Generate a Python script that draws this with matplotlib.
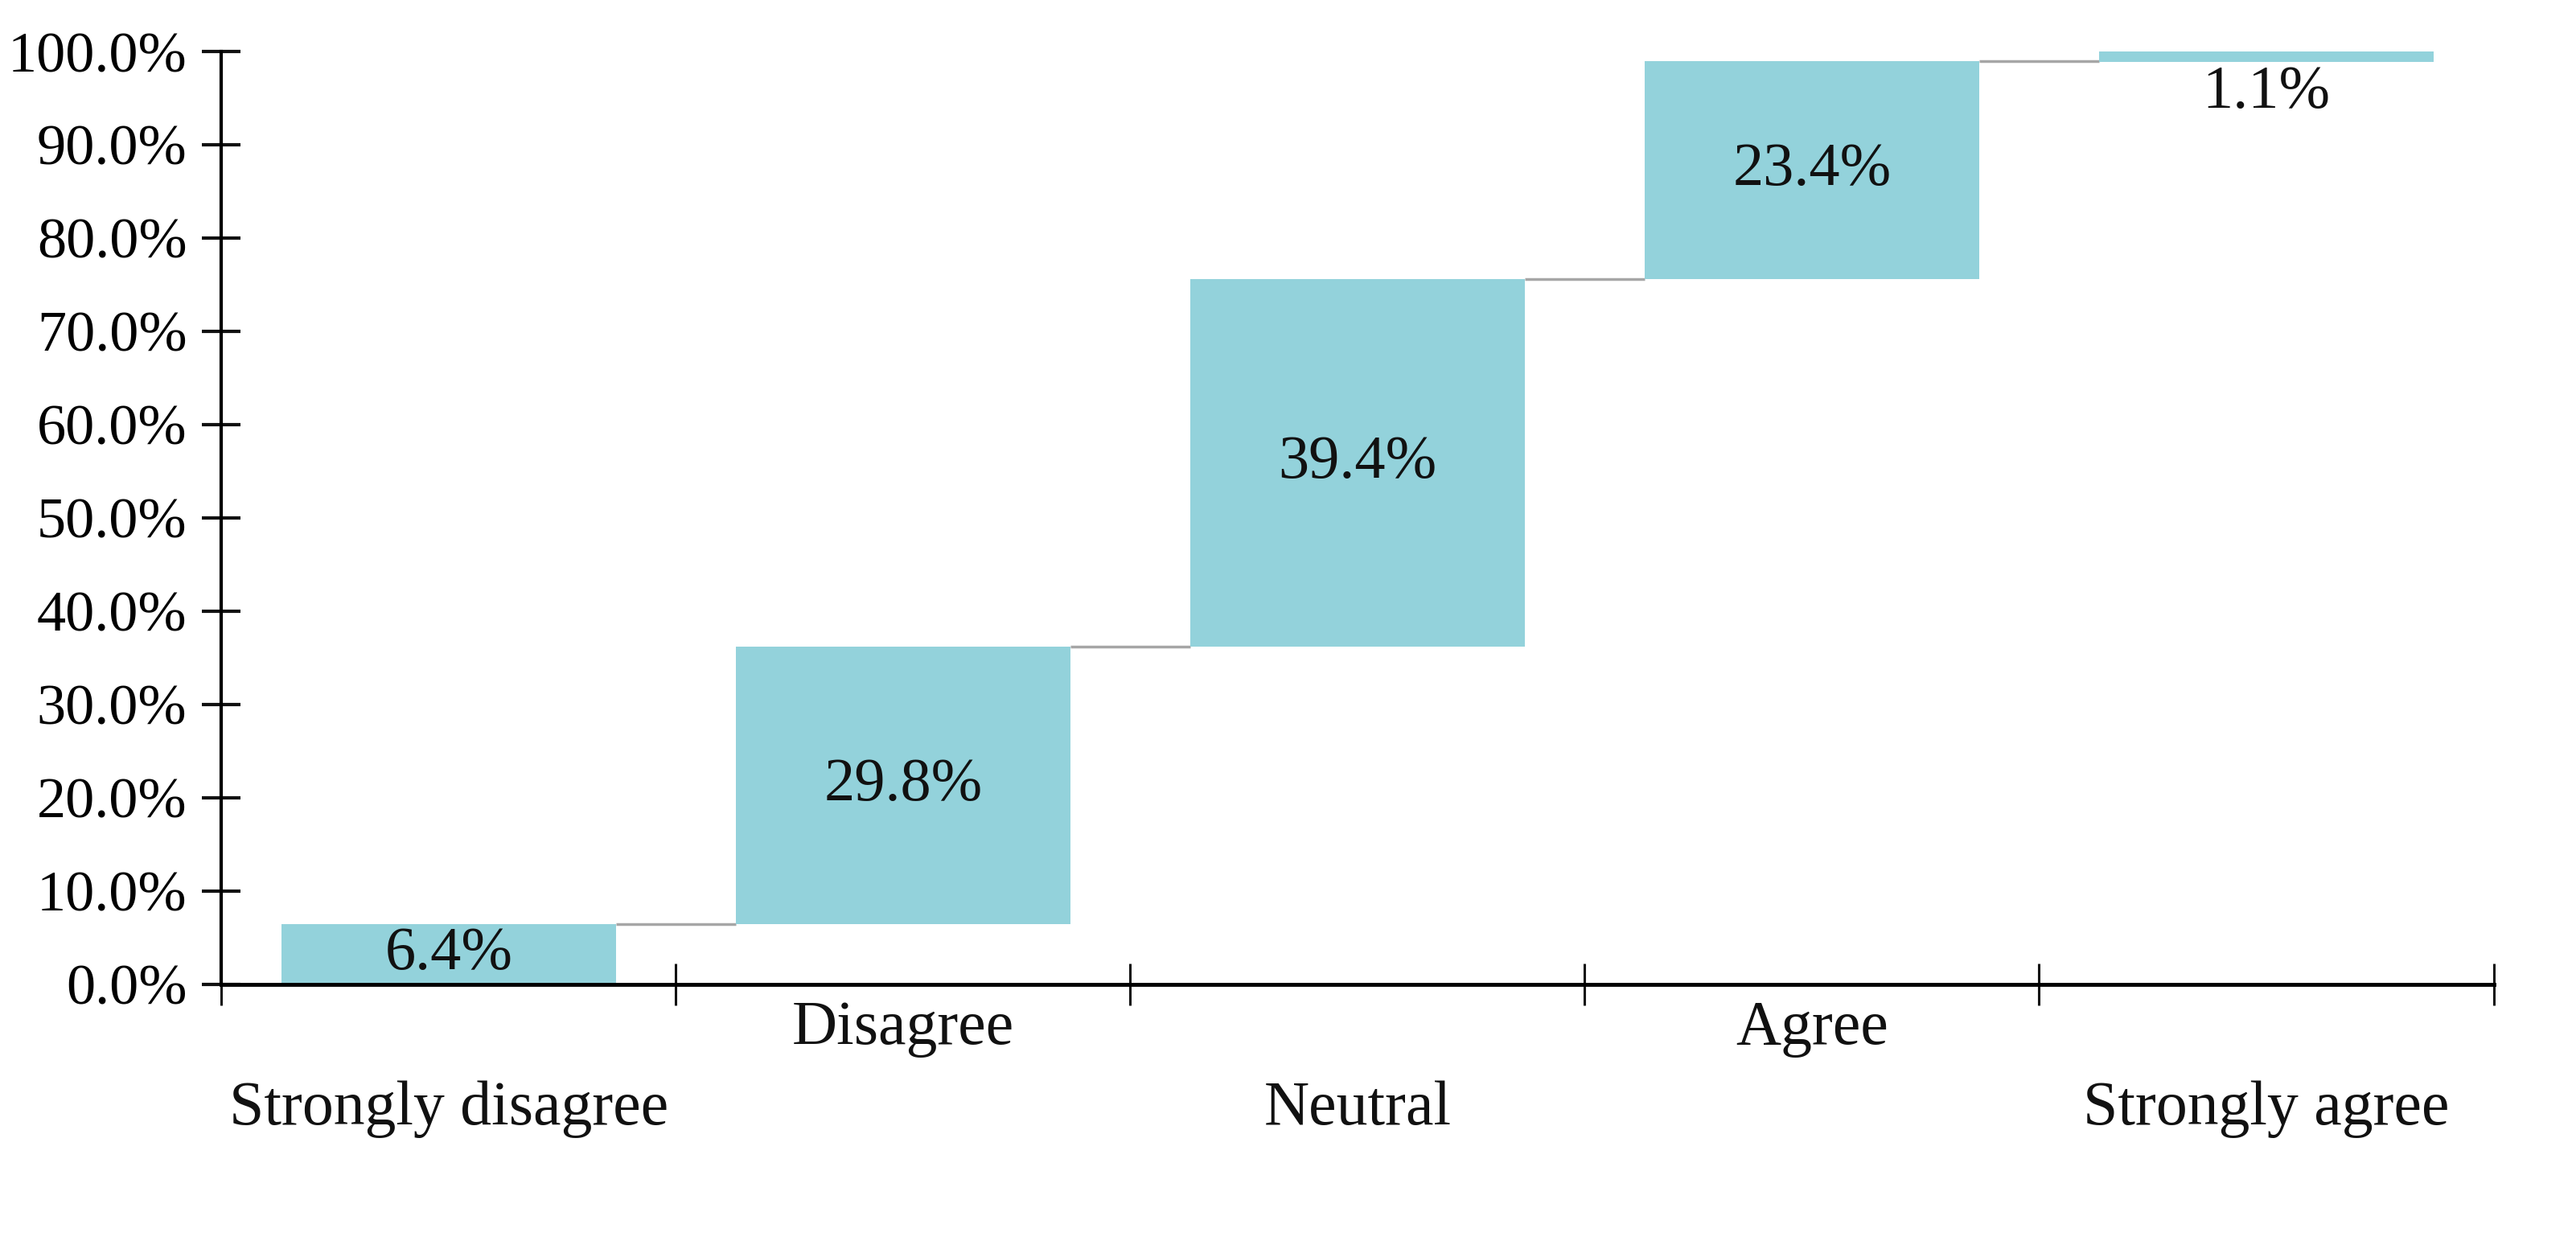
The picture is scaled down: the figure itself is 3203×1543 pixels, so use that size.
import matplotlib
matplotlib.use('Agg')
import matplotlib.pyplot as plt
from matplotlib.ticker import PercentFormatter, MultipleLocator

# survey response shares (%)
categories = ['Strongly disagree', 'Disagree', 'Neutral', 'Agree', 'Strongly agree']
shares = [6.4, 29.8, 39.4, 23.4, 1.1]
value_labels = ['6.4%', '29.8%', '39.4%', '23.4%', '1.1%']

bar_color = '#93D2DB'
connector_color = '#A6A6A6'
font = 'Liberation Serif'
tick_size = 52
value_size = 55
cat_size = 56

plt.rcParams['font.family'] = font

fig = plt.figure(figsize=(32.03, 15.43), dpi=100)
ax = fig.add_axes([0.086, 0.207, 0.882, 0.7515])

# waterfall: each bar starts where previous ends
bottoms = []
running = 0.0
for s in shares:
    bottoms.append(running)
    running += s
# last bar sits just under 100 in the source chart
bottoms[-1] = 100.0 - shares[-1]

width = 0.735
xs = list(range(len(categories)))
ax.bar(xs, shares, bottom=bottoms, width=width, color=bar_color, zorder=2)

# connector lines between bars
for i in range(len(xs) - 1):
    top = bottoms[i] + shares[i]
    ax.plot([xs[i] + width / 2, xs[i + 1] - width / 2], [top, top],
            color=connector_color, lw=2.5, zorder=1, solid_capstyle='butt')

# value labels
for i, (b, s, lab) in enumerate(zip(bottoms, shares, value_labels)):
    if s < 3:
        ax.text(xs[i], b - 0.4, lab, ha='center', va='top', fontsize=value_size, color='#111111')
    else:
        ax.text(xs[i], b + s / 2, lab, ha='center', va='center', fontsize=value_size, color='#111111')

ax.set_xlim(-0.5, len(categories) - 0.5)
ax.set_ylim(0, 100)
ax.yaxis.set_major_locator(MultipleLocator(10))
ax.yaxis.set_major_formatter(PercentFormatter(decimals=1))

ax.set_xticks([x - 0.5 for x in range(len(categories) + 1)])
ax.set_xticklabels([])
ax.tick_params(axis='x', direction='inout', length=38, width=2.2, color='#111111')
ax.tick_params(axis='y', direction='inout', length=34, width=3, color='#111111',
               labelsize=tick_size, pad=14)

for side in ['top', 'right']:
    ax.spines[side].set_visible(False)
ax.spines['left'].set_linewidth(3)
ax.spines['bottom'].set_linewidth(3.5)

# staggered category labels
trans = ax.get_xaxis_transform()
for i, c in enumerate(categories):
    y = -0.048 if i % 2 else -0.134
    ax.text(xs[i], y, c, transform=trans, ha='center', va='center',
            fontsize=cat_size, color='#111111')

fig.savefig('out.png', dpi=100)
